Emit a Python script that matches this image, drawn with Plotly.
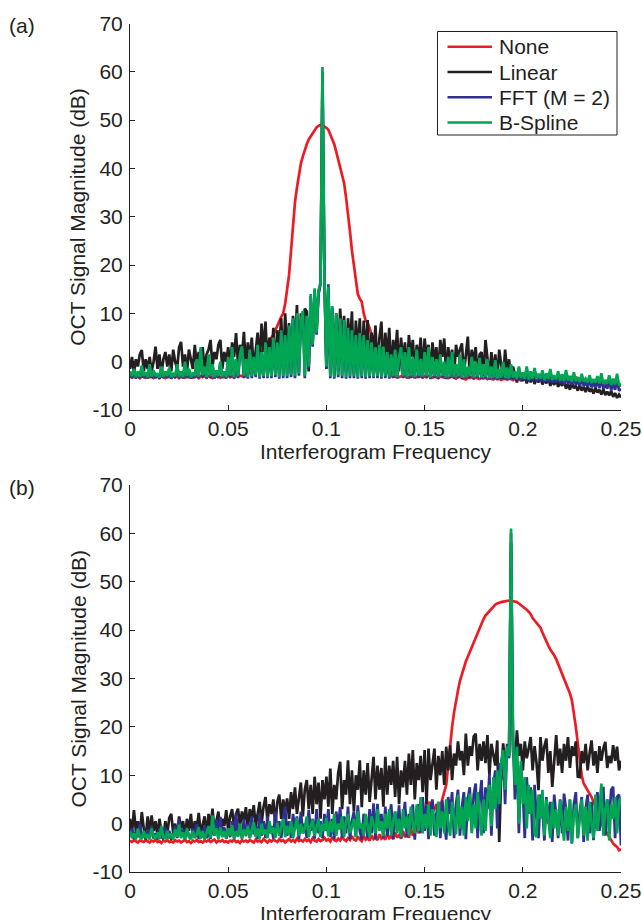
import plotly.graph_objects as go

# frequency grid of the spectra (cycles / sample)
freq = [round(i * 0.001, 3) for i in range(251)]

# ---- panel (a): signal near 0.1 ----
none_a = [
    -3.0, -3.3, -2.9, -3.2, -3.0, -3.4, -3.1, -3.0, -3.3, -2.9,
    -3.2, -3.0, -3.4, -3.1, -2.9, -3.3, -3.0, -3.2, -3.4, -3.0,
    -3.1, -3.3, -2.9, -3.2, -3.0, -3.4, -3.1, -2.9, -3.3, -3.0,
    -3.2, -3.0, -3.3, -2.9, -3.1, -3.4, -3.0, -3.2, -2.9, -3.3,
    -3.0, -3.2, -3.4, -3.0, -3.1, -2.9, -3.3, -3.0, -3.2, -3.1,
    -2.9, -3.2, -3.0, -3.3, -2.8, -3.1, -2.9, -3.0, -2.7, -3.0,
    -2.5, -2.0, -1.5, -1.0, -0.5, 0.0, 1.0, 2.0, 3.0, 3.5,
    4.0, 4.5, 5.0, 5.5, 6.5, 7.5, 8.7, 9.3, 10.0, 12.0,
    15.0, 18.0, 23.0, 28.0, 33.0, 36.0, 39.0, 41.0, 42.5, 44.0,
    45.0, 46.0, 46.6, 47.3, 48.0, 48.5, 48.8, 49.0, 48.9, 48.7,
    48.4, 48.0, 47.0, 46.0, 45.0, 43.5, 42.0, 40.0, 38.5, 37.0,
    34.0, 31.0, 27.0, 23.0, 20.0, 16.0, 14.0, 13.0, 12.4, 10.0,
    8.5, 8.0, 7.0, 5.5, 5.0, 4.0, 3.0, 2.0, 1.0, 0.0,
    -1.0, -2.0, -2.6, -3.0, -2.8, -3.1, -2.9, -3.2, -3.0, -2.8,
    -3.1, -3.0, -3.3, -2.9, -3.1, -3.0, -3.2, -2.8, -3.1, -3.3,
    -3.0, -3.2, -2.9, -3.1, -3.3, -3.0, -3.2, -3.4, -3.1, -3.0,
    -3.3, -3.1, -3.4, -3.2, -3.0, -3.3, -3.5, -3.2, -3.1, -3.4,
    -3.6, -3.7, -3.3, -3.4, -3.2, -3.5, -3.3, -3.4, -3.6, -3.3,
    -3.5, -3.3, -3.6, -3.4, -3.5, -3.7, -3.4, -3.6, -3.5, -3.8,
    -3.6, -3.5, -3.7, -3.4, -3.6, -3.8, -3.5, -3.7, -3.6, -3.9,
    -3.7, -3.6, -3.8, -3.5, -3.7, -3.9, -3.6, -3.8, -3.7, -4.0,
    -3.8, -3.6, -3.9, -3.7, -4.0, -3.8, -3.6, -3.9, -4.1, -3.8,
    -3.5, -3.9, -4.0, -3.2, -3.8, -3.0, -3.9, -3.1, -4.1, -3.8,
    -4.0, -4.2, -3.9, -4.1, -4.3, -4.0, -4.4, -4.2, -4.5, -4.3,
    -4.4, -4.6, -4.3, -4.7, -4.5, -4.8, -4.6, -4.9, -4.7, -5.0,
    -4.9,
]

linear_a = [
    -1.5, 1.0, -2.5, 0.5, -1.0, 1.5, 2.4, -2.0, 0.5, -1.5,
    1.0, -2.0, 0.0, 3.1, -1.5, 1.5, -2.5, 0.5, 2.0, -1.0,
    1.5, -2.0, 2.5, 0.0, -1.5, 3.0, 4.1, -1.0, 1.5, -2.0,
    2.5, 0.5, -1.5, 3.5, -1.0, 2.0, 0.0, 3.0, -2.0, 1.5,
    2.5, 4.5, -1.0, 2.0, 0.5, 3.5, 4.5, -1.5, 2.0, 0.0,
    3.0, -1.0, 4.0, 1.0, 5.9, -0.5, 3.5, 1.0, 6.2, -1.0,
    4.0, 0.5, 5.0, -1.5, 3.0, 6.0, 0.0, 7.9, 2.0, 8.3,
    -1.5, 5.0, 1.0, 7.0, -2.0, 6.5, 3.0, 9.0, -1.5, 10.0,
    2.0, 8.0, -2.5, 9.5, 3.0, 11.7, -2.0, 10.0, 6.0, 11.0,
    10.4, -2.0, 12.0, 4.0, 14.0, 7.0, 14.0, 16.0, 58.0, 17.0,
    -1.5, 15.0, -2.5, 11.0, -3.0, 10.0, -2.0, 11.0, 4.0, 9.5,
    -2.0, 9.0, 3.0, 10.4, -2.5, 8.5, 2.0, 9.0, -2.0, 8.5,
    1.0, 8.6, -2.5, 6.0, 2.0, 7.5, -2.0, 5.0, 8.3, -1.5,
    6.0, 0.5, 7.0, -2.5, 4.5, 1.0, 6.6, -2.0, 5.0, 0.0,
    4.0, -2.5, 5.5, 1.0, 4.5, -2.0, 3.5, 0.0, 5.0, -2.5,
    4.8, 1.0, 3.5, -2.5, 4.0, 0.0, 3.0, -2.5, 4.5, 1.0,
    4.8, -2.5, 3.0, 0.0, 2.5, -3.0, 3.5, 1.0, 2.5, 3.8,
    -2.5, 2.0, 5.2, -3.0, 2.5, 0.0, 3.0, -3.0, 1.5, 2.0,
    -3.0, 4.5, 0.0, -3.0, 2.0, -2.5, 1.5, -3.5, 2.5, -1.0,
    -3.5, 2.5, -2.0, 0.5, -3.5, -1.0, -2.5, -4.3, -2.0, -3.5,
    -4.0, -2.5, -4.5, -3.0, -4.3, -2.5, -4.6, -3.5, -4.3, -2.8,
    -4.7, -3.8, -4.5, -3.2, -5.0, -4.0, -4.8, -3.6, -5.2, -4.2,
    -5.0, -4.0, -5.6, -4.6, -5.8, -4.3, -5.5, -5.0, -6.0, -4.8,
    -6.0, -5.2, -6.3, -5.0, -6.2, -5.6, -6.6, -5.4, -6.4, -5.8,
    -6.8, -5.7, -6.9, -6.2, -7.0, -6.0, -7.3, -6.5, -7.5, -6.8,
    -7.4,
]

fft_a = [
    -2.3, -3.4, -1.8, -3.5, -2.3, -3.4, -1.0, -3.4, -2.5, -3.5,
    -0.8, -3.4, -2.0, -3.4, -2.6, -3.6, -1.3, -3.4, -2.3, -3.4,
    -1.5, -3.5, -2.7, -3.4, -0.8, -3.4, -2.3, -3.5, -0.3, -3.4,
    -1.8, -3.5, -2.5, -3.4, 0.2, -3.4, 2.6, -3.2, -1.3, -3.5,
    1.2, -3.4, -0.8, -3.5, -2.0, -3.4, -0.3, -3.4, -2.3, -3.5,
    0.7, -3.4, 2.6, -3.5, 0.2, -3.4, 1.2, 2.8, -3.4, 0.2,
    -3.5, 2.2, -3.4, 0.7, -3.2, 3.2, -3.5, 1.7, -3.4, 3.6,
    -3.4, 2.7, -3.4, 4.6, -3.2, 3.7, -3.5, 6.1, -3.4, 5.2,
    -3.4, 7.2, -3.2, 8.6, -3.4, 9.6, -2.9, 8.2, 10.1, -3.4,
    9.2, -1.4, 13.6, 3.1, 14.8, 5.6, 14.4, 16.5, 60.0, 18.5,
    -1.4, 16.0, -3.4, 11.2, -3.5, 9.7, -3.2, 8.7, -3.4, 8.3,
    -3.5, 6.7, -3.4, 6.2, -3.4, 5.2, -3.5, 5.6, -3.4, 5.2,
    -3.5, 4.2, -3.4, 3.7, -3.4, 2.7, -3.4, 3.2, -3.5, 2.8,
    -3.4, 1.7, -3.5, 1.2, -3.4, 2.2, -3.5, 0.7, 2.7, -3.4,
    1.7, -3.5, 2.7, -3.4, 0.7, -3.5, 2.2, -3.4, 0.2, -3.4,
    1.7, -3.4, 2.7, -3.6, 0.7, -3.4, 0.2, -3.5, 1.2, -3.4,
    -0.3, -3.6, 0.7, -3.4, 1.7, -3.5, -0.8, -3.4, 1.2, -3.6,
    0.2, -3.5, -1.3, -3.4, 0.7, -3.6, -0.3, -3.4, 0.5, -3.6,
    -0.8, -3.5, 0.2, -3.7, -1.3, -3.6, 0.0, -3.8, -1.8, -3.6,
    -0.3, -3.7, -1.5, -3.8, -0.8, -3.7, -2.3, -3.9, -1.3, -3.8,
    -2.5, -3.9, -1.5, -4.1, -2.4, -4.0, -1.8, -4.1, -2.9, -4.1,
    -2.3, -4.3, -2.9, -4.2, -2.1, -4.4, -3.3, -4.3, -2.6, -4.5,
    -3.2, -4.7, -2.5, -4.6, -3.7, -4.8, -3.0, -4.8, -4.0, -5.0,
    -3.4, -5.0, -4.3, -5.2, -3.7, -5.3, -4.5, -5.3, -4.0, -5.5,
    -3.5, -5.6, -4.8, -5.6, -4.0, -5.9, -4.7, -5.8, -3.8, -6.0,
    -5.6,
]

bspline_a = [
    -2.0, -3.0, -1.5, -3.2, -2.0, -3.1, -0.8, -3.0, -2.2, -3.2,
    -0.5, -3.1, -1.8, -3.0, -2.4, -3.3, -1.0, -3.1, -2.0, -3.0,
    -1.2, -3.2, -2.5, -3.0, -0.5, -3.1, -2.0, -3.2, 0.0, -3.0,
    -1.5, -3.2, -2.2, -3.0, 0.5, -3.1, 3.0, -2.8, -1.0, -3.2,
    1.5, -3.0, -0.5, -3.2, -1.8, -3.0, 0.0, -3.1, -2.0, -3.2,
    1.0, -3.0, 3.0, -3.2, 0.5, -3.0, 1.5, 3.2, -3.0, 0.5,
    -3.2, 2.5, -3.0, 1.0, -2.8, 3.5, -3.2, 2.0, -3.0, 4.0,
    -3.1, 3.0, -3.0, 5.0, -2.8, 4.0, -3.2, 6.5, -3.0, 5.5,
    -3.0, 7.5, -2.8, 9.0, -3.0, 10.0, -2.5, 8.5, 10.5, -3.0,
    9.5, -1.0, 14.0, 3.5, 15.2, 6.0, 14.8, 16.0, 61.0, 17.5,
    -1.0, 15.5, -3.0, 11.5, -3.2, 10.0, -2.8, 9.0, -3.0, 8.6,
    -3.2, 7.0, -3.0, 6.5, -3.0, 5.5, -3.2, 5.9, -3.0, 5.5,
    -3.2, 4.5, -3.0, 4.0, -3.1, 3.0, -3.0, 3.5, -3.2, 3.1,
    -3.0, 2.0, -3.2, 1.5, -3.0, 2.5, -3.2, 1.0, 3.0, -3.0,
    2.0, -3.2, 3.0, -3.0, 1.0, -3.2, 2.5, -3.0, 0.5, -3.1,
    2.0, -3.0, 3.0, -3.3, 1.0, -3.0, 0.5, -3.2, 1.5, -3.0,
    0.0, -3.3, 1.0, -3.1, 2.0, -3.2, -0.5, -3.0, 1.5, -3.3,
    0.5, -3.2, -1.0, -3.0, 1.0, -3.3, 0.0, -3.1, 0.8, -3.3,
    -0.5, -3.2, 0.5, -3.4, -1.0, -3.3, 0.3, -3.5, -1.5, -3.3,
    0.0, -3.4, -1.2, -3.5, -0.5, -3.3, -2.0, -3.6, -1.0, -3.4,
    -2.2, -3.5, -1.0, -3.7, -2.0, -3.5, -1.3, -3.6, -2.5, -3.5,
    -1.8, -3.8, -2.4, -3.6, -1.5, -3.8, -2.8, -3.7, -2.0, -3.9,
    -2.6, -4.0, -1.7, -3.9, -3.0, -4.1, -2.2, -4.0, -3.2, -4.2,
    -2.5, -4.1, -3.5, -4.3, -2.8, -4.4, -3.6, -4.3, -3.0, -4.5,
    -2.4, -4.6, -3.8, -4.5, -2.8, -4.8, -3.5, -4.7, -2.5, -4.9,
    -4.5,
]

# ---- panel (b): signal near 0.195 ----
none_b = [
    -3.5, -3.8, -3.4, -3.7, -3.9, -3.5, -3.6, -3.8, -3.4, -3.7,
    -3.9, -3.5, -3.7, -3.3, -3.8, -3.6, -4.0, -3.5, -3.7, -3.4,
    -3.8, -3.6, -3.9, -3.4, -3.7, -3.5, -3.9, -3.6, -3.3, -3.8,
    -3.6, -4.0, -3.5, -3.7, -3.4, -3.8, -3.6, -3.9, -3.5, -3.7,
    -3.4, -3.8, -3.6, -3.3, -3.9, -3.5, -3.7, -3.4, -3.8, -3.6,
    -3.9, -3.5, -3.7, -3.3, -3.8, -3.6, -4.0, -3.4, -3.7, -3.5,
    -3.8, -3.4, -3.6, -3.9, -3.3, -3.7, -3.5, -3.8, -3.2, -3.6,
    -3.9, -3.4, -3.7, -3.3, -3.6, -3.8, -3.2, -3.6, -3.4, -3.9,
    -3.5, -3.2, -3.7, -3.4, -3.8, -3.1, -3.6, -3.4, -3.7, -3.2,
    -3.6, -3.3, -3.8, -3.0, -3.5, -3.7, -3.2, -3.6, -3.4, -2.9,
    -3.5, -3.2, -3.7, -2.8, -3.4, -3.6, -3.1, -3.5, -2.7, -3.3,
    -3.6, -3.0, -3.4, -2.6, -3.3, -3.5, -2.8, -3.2, -3.6, -2.5,
    -3.3, -3.0, -3.5, -2.4, -3.2, -2.9, -3.4, -2.2, -3.1, -2.8,
    -3.3, -2.0, -3.0, -2.6, -3.2, -1.8, -2.9, -2.4, -3.1, -1.5,
    -2.8, -2.2, -2.9, -1.0, -2.5, -1.8, -0.5, -2.0, 0.5, 3.4,
    2.0, 5.0, 3.5, 4.5, 2.5, 3.0, 4.0, 2.0, 3.5, 5.0,
    6.0, 8.0, 12.0, 16.6, 20.0, 23.0, 25.5, 27.5, 29.5, 31.0,
    32.5, 33.5, 34.5, 35.5, 36.5, 37.5, 38.5, 39.5, 40.5, 41.5,
    42.3, 43.0, 43.5, 44.0, 44.5, 45.0, 45.3, 45.5, 45.7, 45.8,
    45.9, 46.0, 46.0, 46.1, 46.1, 46.0, 46.0, 45.8, 45.5, 45.2,
    44.8, 44.5, 44.2, 43.8, 43.3, 42.5, 42.0, 41.5, 41.0, 40.5,
    39.5, 38.5, 37.5, 36.8, 36.0, 35.5, 34.8, 34.0, 33.0, 32.0,
    31.0, 30.0, 29.0, 28.0, 26.9, 25.5, 23.0, 20.0, 16.6, 13.1,
    10.0, 8.3, 7.5, 7.0, 6.2, 5.5, 4.5, 3.5, 2.5, 1.4,
    0.0, -0.7, -1.4, -2.2, -2.8, -3.4, -4.1, -4.5, -4.8, -5.5,
    -5.3,
]

linear_b = [
    1.0, -2.0, 2.8, -1.5, 0.5, -2.5, 2.4, -1.0, -2.8, 1.5,
    -2.0, 1.7, -1.5, 0.5, -2.5, 1.0, -1.8, -3.0, 0.5, -2.0,
    1.2, 2.0, -2.0, 0.0, -2.8, 1.5, -1.0, 0.5, -2.5, 1.0,
    -1.5, 2.0, -2.5, 0.5, -1.0, 2.2, -2.0, 0.0, 1.5, -2.5,
    2.0, -1.0, 3.1, -1.5, 0.5, 2.5, -2.0, 1.0, -0.5, 2.8,
    -1.5, 1.5, 3.0, -1.0, 2.0, 3.1, -0.5, 2.5, 0.5, 3.4,
    -1.0, 3.0, 1.0, 3.8, -0.5, 2.5, 4.5, 0.0, 3.5, 5.5,
    0.5, 4.0, 2.0, 5.0, -0.5, 4.5, 6.0, 1.0, 5.0, 2.5,
    5.2, 1.0, 6.5, 3.0, 7.5, 2.0, 6.0, 8.5, 1.5, 7.0,
    9.0, 3.0, 8.0, 2.0, 9.7, 4.0, 8.5, 1.0, 9.0, 5.0,
    9.7, 3.5, 11.4, 2.0, 8.0, 5.0, 10.5, 12.8, 3.0, 9.0,
    6.0, 13.1, 4.0, 11.0, 2.5, 10.0, 7.0, 13.1, 3.4, 11.0,
    6.0, 12.5, 4.5, 10.0, 13.8, 5.0, 12.0, 7.0, 11.5, 3.5,
    13.8, 6.0, 12.0, 8.0, 13.0, 5.5, 13.8, 4.0, 11.0, 7.5,
    13.0, 6.0, 14.5, 8.0, 15.2, 5.0, 12.5, 9.0, 14.0, 6.5,
    15.2, 4.1, 15.5, 9.0, 13.0, 15.5, 7.0, 14.0, 10.0, 15.0,
    8.0, 15.9, 11.0, 16.2, 9.0, 14.5, 12.0, 17.0, 13.1, 15.0,
    10.0, 18.6, 12.0, 16.0, 14.0, 18.0, 18.6, 11.0, 16.5, 13.0,
    17.0, 12.5, 18.3, 10.0, 16.5, 14.0, 12.0, 17.2, -3.8, 10.0,
    16.6, 12.0, 15.0, 14.0, 58.0, 15.0, 12.0, 19.3, 14.0, 16.5,
    11.0, 17.0, 13.5, 15.5, 17.9, 11.0, 16.0, 12.5, 6.9, 17.9,
    13.0, 16.0, 17.6, 10.5, 15.0, 7.6, 14.0, 18.3, 12.0, 15.5,
    10.5, 16.5, 13.0, 17.9, 11.5, 16.0, 14.0, 17.0, 9.7, 9.6,
    15.0, 12.5, 16.5, 11.0, 14.5, 17.2, 12.0, 15.0, 10.5, 16.0,
    13.0, 15.5, 16.9, 11.5, 14.0, 12.5, 16.2, 13.0, 15.9, 11.0,
    13.0,
]

fft_b = [
    -2.5, -1.0, -3.2, -1.5, -2.8, 0.0, -3.0, -1.8, -3.3, -1.2,
    -2.9, -0.5, -3.1, -2.0, -3.3, -1.0, -2.7, -3.2, -0.8, -3.0,
    -1.5, -3.3, -2.2, -0.5, -3.0, 1.0, -2.8, -1.2, -3.2, -0.8,
    -2.6, -3.1, -1.0, -2.9, 0.0, -3.2, -1.5, -2.8, -0.5, -3.0,
    -1.8, -3.2, -0.5, -2.5, 0.8, -3.0, 1.4, -2.2, -0.8, -3.1,
    -1.0, -2.8, 0.5, -3.0, 2.1, -2.5, -0.5, -3.1, 1.0, -2.6,
    0.0, -3.0, 1.5, -2.2, -0.5, -3.2, 2.0, -2.5, 0.5, -3.0,
    1.5, -2.0, -0.5, -3.1, 2.5, -1.5, 0.5, -3.0, 1.0, 3.5,
    -2.5, 0.5, -3.0, 2.0, -1.0, 1.5, -3.2, 2.5, -2.0, 0.0,
    -3.0, 2.8, -1.5, 1.0, -3.1, 3.0, -2.0, 0.5, -3.0, 2.0,
    -1.5, 3.0, -2.8, 1.0, -3.2, 2.5, -1.0, 3.4, -3.0, 1.5,
    -2.0, 3.5, -3.2, 0.5, 2.5, -2.8, 3.8, -1.5, -3.3, 2.0,
    0.5, -3.0, 3.0, -2.0, 4.2, -3.2, 4.1, -1.0, 2.0, -3.0,
    3.5, -2.5, 1.0, 4.0, -3.2, 2.5, -1.5, 3.8, -3.0, 1.5,
    4.5, -2.8, 2.0, -1.0, 4.0, -3.3, 3.0, 4.0, -2.0, 5.5,
    -1.5, 4.0, -3.2, 3.0, 5.0, -2.5, 2.0, 4.5, -3.0, 4.8,
    1.0, -3.3, 5.5, 2.0, 6.5, -3.0, 4.0, 7.0, -2.5, 3.5,
    6.5, -3.2, 5.0, 7.5, -1.5, 6.0, 8.3, -3.0, 5.0, 9.0,
    -2.0, 7.5, 3.0, 10.3, -2.5, 8.0, 11.0, -1.0, 12.5, 9.0,
    15.0, 4.0, 16.5, 13.5, 60.0, 18.0, 5.0, 16.0, -2.0, 12.0,
    7.0, -3.0, 9.6, 2.0, 7.5, -3.5, 8.0, 1.0, -3.0, 6.0,
    3.0, -3.5, 5.5, 0.0, 4.5, -3.8, 6.0, 1.0, -3.0, 5.0,
    -2.0, 6.2, 3.0, -3.5, 5.0, -4.1, 4.0, 6.5, -3.0, 2.5,
    5.5, -3.8, 3.0, 6.0, -2.0, 4.5, -3.4, 2.0, 6.5, -1.5,
    4.0, 7.6, -2.5, 5.0, 1.0, 7.0, 7.6, -3.0, 5.5, 6.0,
    -4.5,
]

bspline_b = [
    -1.5, -3.0, -2.0, -3.3, -1.0, -2.8, -3.2, -1.5, -3.0, -2.2,
    -3.3, -1.0, -2.6, -3.1, -1.8, -3.2, -0.5, -2.8, -3.0, -1.5,
    -3.1, -2.0, -3.3, -1.2, -2.7, -0.2, -3.0, -1.8, -3.2, -1.0,
    -2.8, -3.2, -1.5, -3.0, -2.2, -0.8, -3.1, -1.6, -3.3, -2.0,
    -0.5, -3.0, 1.7, -2.5, -1.0, -3.2, -0.8, -2.8, -1.5, -3.0,
    -1.0, -2.5, -0.3, -3.1, -1.6, -2.7, 0.0, -3.0, -1.2, -2.4,
    -0.5, -3.0, -1.5, 0.3, -2.8, -1.0, -3.1, 0.0, -2.2, -1.2,
    -3.0, 0.5, -2.0, -0.8, -3.0, 0.2, -2.5, -1.0, 1.0, -2.8,
    -0.5, -2.2, 0.5, -3.0, -1.0, 1.2, -2.5, 0.0, -2.0, -0.8,
    1.5, -2.8, -0.5, 0.8, -2.5, -1.0, 1.0, -2.8, 0.0, -1.5,
    1.2, -2.6, 0.5, -1.8, 2.0, -2.5, 0.0, -1.2, 1.5, -2.8,
    0.5, 2.0, -2.0, -0.5, 1.0, -2.8, 2.5, -1.0, 0.0, -2.5,
    2.0, -0.5, -2.8, 1.5, 0.0, -2.0, 3.0, -1.5, 0.5, -2.6,
    2.0, -1.0, 3.0, -2.5, 0.5, 2.5, -2.0, 1.0, -2.8, 3.0,
    -1.0, 1.5, -2.5, 3.5, 0.0, -2.0, 4.0, -1.5, 5.5, -2.0,
    2.0, -1.0, 4.0, -2.5, 3.0, 0.5, -2.8, 4.5, -1.0, 2.5,
    -2.0, 5.0, 0.0, -2.5, 4.5, 1.0, -2.2, 6.0, -1.0, 3.5,
    -2.5, 5.5, 0.5, 6.2, -2.0, 4.0, -1.0, 6.5, 1.0, -2.5,
    5.0, -1.5, 5.5, 8.0, -0.5, 9.6, 3.0, 11.0, 4.0, 13.0,
    15.2, 7.0, 16.0, 14.0, 61.0, 17.0, 8.0, 15.9, 0.0, 13.0,
    4.0, 9.6, -1.0, 8.0, 2.0, 7.0, -2.0, -2.8, 6.0, 1.0,
    7.0, -2.5, 5.0, 0.5, -3.0, 4.5, -1.0, 3.0, -2.5, 4.8,
    0.0, -3.5, 3.5, -1.5, 5.0, -4.1, 2.0, 4.0, -3.0, 1.0,
    5.0, -2.5, 3.5, -3.5, 4.5, 0.0, -3.0, 6.0, -1.5, 2.5,
    8.3, -2.5, 3.0, 5.0, -3.5, 4.0, 1.0, 5.5, -2.0, 4.5,
    5.5,
]

names = ["None", "Linear", "FFT (M = 2)", "B-Spline"]
colors = ["#ed1c24", "#231f20", "#2e3192", "#00a651"]
xtick_vals = [0, 0.05, 0.1, 0.15, 0.2, 0.25]
xtick_text = ["0", "0.05", "0.1", "0.15", "0.2", "0.25"]
ytick_vals = [-10, 0, 10, 20, 30, 40, 50, 60, 70]
ytick_text = ["-10", "0", "10", "20", "30", "40", "50", "60", "70"]

ink = "#231f20"
font = "Liberation Sans, Arial, Helvetica, sans-serif"

fig = go.Figure()
panels = [
    ("x", "y", [none_a, linear_a, fft_a, bspline_a]),
    ("x2", "y2", [none_b, linear_b, fft_b, bspline_b]),
]
for xa, ya, series in panels:
    for name, color, vals in zip(names, colors, series):
        fig.add_trace(go.Scatter(
            x=freq, y=vals, name=name, mode="lines",
            line=dict(color=color, width=2.7),
            xaxis=xa, yaxis=ya, showlegend=False,
        ))

xstyle = dict(
    range=[0, 0.25], tickvals=xtick_vals, ticktext=xtick_text,
    ticks="inside", ticklen=5, tickcolor=ink, showline=True,
    linecolor=ink, linewidth=1, showgrid=False, zeroline=False,
    tickfont=dict(size=21, color=ink, family=font), ticklabelstandoff=0,
)
ystyle = dict(
    range=[-10, 70], tickvals=ytick_vals, ticktext=ytick_text,
    ticks="inside", ticklen=5, tickcolor=ink, showline=True,
    linecolor=ink, linewidth=1, showgrid=False, zeroline=False,
    tickfont=dict(size=21, color=ink, family=font), ticklabelstandoff=2,
)

# pixel layout of the 642x920 page
W, H = 642, 920
L, R = 130, 621
top_a, bot_a = 23.5, 410
top_b, bot_b = 485, 872


def py(v):
    return 1 - v / H


def px(v):
    return (v - L) / (R - L)


fig.update_layout(
    width=W, height=H,
    margin=dict(l=L, r=W - R, t=0, b=0, autoexpand=False),
    paper_bgcolor="white", plot_bgcolor="white",
    font=dict(family=font, size=21, color=ink),
    showlegend=False,
    xaxis=dict(domain=[0, 1], anchor="y", **xstyle),
    yaxis=dict(domain=[py(bot_a), py(top_a)], anchor="x", **ystyle),
    xaxis2=dict(domain=[0, 1], anchor="y2", **xstyle),
    yaxis2=dict(domain=[py(bot_b), py(top_b)], anchor="x2", **ystyle),
)

annotations = []
for label, top, bot in [("(a)", top_a, bot_a), ("(b)", top_b, bot_b)]:
    annotations.append(dict(
        text=label, x=px(22), y=py(top + 2), xref="paper", yref="paper",
        showarrow=False, xanchor="center", yanchor="middle",
        font=dict(size=21, color=ink, family=font),
    ))
    annotations.append(dict(
        text="OCT Signal Magnitude (dB)", x=px(78), y=py((top + bot) / 2),
        xref="paper", yref="paper", textangle=-90, showarrow=False,
        xanchor="center", yanchor="middle",
        font=dict(size=21, color=ink, family=font),
    ))
    annotations.append(dict(
        text="Interferogram Frequency", x=0.5, y=py(bot + 41),
        xref="paper", yref="paper", showarrow=False,
        xanchor="center", yanchor="middle",
        font=dict(size=21, color=ink, family=font),
    ))

# legend box in panel (a)
shapes = [dict(
    type="rect", xref="paper", yref="paper",
    x0=px(437.5), x1=px(617), y0=py(135), y1=py(31.5),
    line=dict(color=ink, width=1), fillcolor="white", layer="above",
)]
for i, (name, color) in enumerate(zip(names, colors)):
    yy = py(46.7 + 25.3 * i)
    shapes.append(dict(
        type="line", xref="paper", yref="paper",
        x0=px(447.5), x1=px(492), y0=yy, y1=yy,
        line=dict(color=color, width=2.5), layer="above",
    ))
    annotations.append(dict(
        text=name, x=px(497), y=yy, xref="paper", yref="paper",
        showarrow=False, xanchor="left", yanchor="middle",
        font=dict(size=21, color=ink, family=font),
    ))

fig.update_layout(annotations=annotations, shapes=shapes)

# drop the browser's default body margin so the page is laid out at 0,0
fig.write_html(
    "out.html",
    config={"displayModeBar": False},
    post_script="document.body.style.margin='0px';",
)
